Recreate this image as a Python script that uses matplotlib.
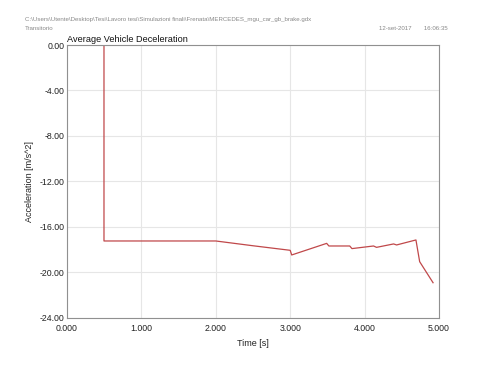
import matplotlib
matplotlib.use("Agg")
import matplotlib.pyplot as plt

plt.rcParams['font.family'] = ['Liberation Sans', 'DejaVu Sans']

time_s = [0.0, 0.497, 0.497, 2.0, 2.5, 3.0, 3.02, 3.49, 3.52, 3.74, 3.80, 3.83,
          4.12, 4.16, 4.39, 4.43, 4.69, 4.74, 4.92]
accel = [0.0, 0.0, -17.23, -17.23, -17.65, -18.05, -18.46, -17.44, -17.67, -17.67,
         -17.67, -17.9, -17.67, -17.79, -17.49, -17.58, -17.14, -19.05, -20.9]

xticks = [0, 1, 2, 3, 4, 5]
yticks = [0, -4, -8, -12, -16, -20, -24]

fig = plt.figure(figsize=(4.8, 3.71), dpi=100)
ax = fig.add_axes([0.1396, 0.1429, 0.775, 0.7358])
ax.plot(time_s, accel, color="#c0484a", lw=0.9)
ax.set_xlim(0, 5)
ax.set_ylim(-24, 0)
ax.set_xticks(xticks)
ax.set_xticklabels([f"{v:.3f}" for v in xticks])
ax.set_yticks(yticks)
ax.set_yticklabels([f"{v:.2f}" for v in yticks])
ax.grid(True, color="#e6e6e6", lw=0.8)
ax.set_axisbelow(True)
for s in ax.spines.values():
    s.set_color("#909090")
    s.set_linewidth(0.8)
ax.tick_params(length=0, labelsize=6.3, colors="#222222")
ax.tick_params(axis="y", pad=2)
ax.tick_params(axis="x", pad=4)
ax.set_xlabel("Time [s]", fontsize=6.5, labelpad=5, color="#222222")
ax.set_ylabel("Acceleration [m/s^2]", fontsize=6.5, labelpad=4, color="#222222")
ax.text(0.0, 1.004, "Average Vehicle Deceleration", transform=ax.transAxes,
        fontsize=6.6, ha="left", va="bottom", color="#111111")

fig.text(25/480, 1 - 19/371,
         "C:\\Users\\Utente\\Desktop\\Tesi\\Lavoro tesi\\Simulazioni finali\\Frenata\\MERCEDES_mgu_car_gb_brake.gdx",
         fontsize=4.4, color="#888888", ha="left", va="center")
fig.text(25/480, 1 - 28/371, "Transitorio", fontsize=4.4, color="#888888",
         ha="left", va="center")
fig.text(448/480, 1 - 28/371, "12-set-2017       16:06:35", fontsize=4.4,
         color="#888888", ha="right", va="center")

fig.savefig("out.png", dpi=100)
